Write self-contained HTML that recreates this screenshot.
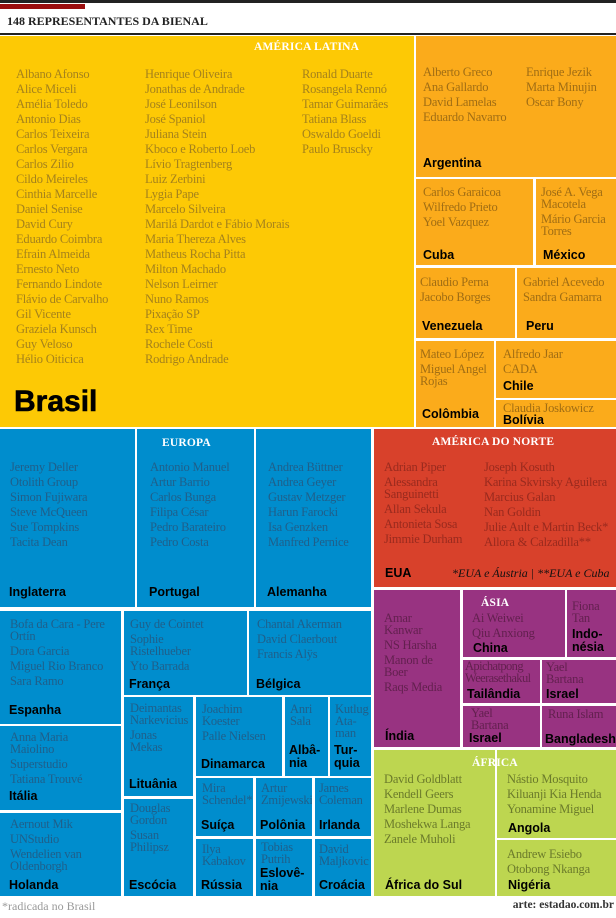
<!DOCTYPE html>
<html><head><meta charset="utf-8"><style>
*{margin:0;padding:0;box-sizing:border-box}
body{width:616px;height:918px;background:#fff;position:relative;overflow:hidden;font-family:"Liberation Serif",serif}
.c{position:absolute;overflow:hidden}
.n{position:absolute;font-size:12.5px;letter-spacing:-0.2px}
.n div{line-height:12px;margin-bottom:3px;white-space:nowrap}
.l{position:absolute;font-family:"Liberation Sans",sans-serif;font-weight:bold;font-size:12.5px;color:#000;line-height:13px}
.y{background:#fdc905}.y .n{color:#a5821c}
.o{background:#fbab1b}.o .n{color:#a06d14}
.b{background:#008dcd}.b .n{color:#1f5f8a}
.r{background:#d8412b}.r .n{color:#992a1e}
.p{background:#983381}.p .n{color:#63204f}
.g{background:#bdd650}.g .n{color:#6b7b2b}
.h{position:absolute;color:#fff;font-weight:bold;font-size:11.5px;letter-spacing:0.2px}
</style></head><body>
<div style="position:absolute;left:0;top:0;width:616px;height:3px;background:#222"></div>
<div style="position:absolute;left:0;top:4px;width:85px;height:5px;background:#9b0d0d"></div>
<div style="position:absolute;left:7px;top:14px;font-size:12px;font-weight:bold;color:#222">148 REPRESENTANTES DA BIENAL</div>
<div style="position:absolute;left:0;top:33px;width:616px;height:2px;background:#222"></div>

<!-- Brasil -->
<div class="c y" style="left:0;top:36px;width:414px;height:391px">
<div class="h" style="left:254px;top:5px">AMÉRICA LATINA</div>
<div class="n" style="left:16px;top:32px"><div>Albano Afonso</div><div>Alice Miceli</div><div>Amélia Toledo</div><div>Antonio Dias</div><div>Carlos Teixeira</div><div>Carlos Vergara</div><div>Carlos Zilio</div><div>Cildo Meireles</div><div>Cinthia Marcelle</div><div>Daniel Senise</div><div>David Cury</div><div>Eduardo Coimbra</div><div>Efrain Almeida</div><div>Ernesto Neto</div><div>Fernando Lindote</div><div>Flávio de Carvalho</div><div>Gil Vicente</div><div>Graziela Kunsch</div><div>Guy Veloso</div><div>Hélio Oiticica</div></div>
<div class="n" style="left:145px;top:32px"><div>Henrique Oliveira</div><div>Jonathas de Andrade</div><div>José Leonilson</div><div>José Spaniol</div><div>Juliana Stein</div><div>Kboco e Roberto Loeb</div><div>Lívio Tragtenberg</div><div>Luiz Zerbini</div><div>Lygia Pape</div><div>Marcelo Silveira</div><div>Marilá Dardot e Fábio Morais</div><div>Maria Thereza Alves</div><div>Matheus Rocha Pitta</div><div>Milton Machado</div><div>Nelson Leirner</div><div>Nuno Ramos</div><div>Pixação SP</div><div>Rex Time</div><div>Rochele Costi</div><div>Rodrigo Andrade</div></div>
<div class="n" style="left:302px;top:32px"><div>Ronald Duarte</div><div>Rosangela Rennó</div><div>Tamar Guimarães</div><div>Tatiana Blass</div><div>Oswaldo Goeldi</div><div>Paulo Bruscky</div></div>
<div class="l" style="left:14px;top:351px;font-size:30px;line-height:30px;font-weight:900;-webkit-text-stroke:0.6px #000">Brasil</div>
</div>

<div class="c o" style="left:416px;top:36px;width:200px;height:141px">
<div class="n" style="left:7px;top:30px"><div>Alberto Greco</div><div>Ana Gallardo</div><div>David Lamelas</div><div>Eduardo Navarro</div></div>
<div class="n" style="left:110px;top:30px"><div>Enrique Jezik</div><div>Marta Minujin</div><div>Oscar Bony</div></div>
<div class="l" style="left:7px;top:121px">Argentina</div></div>
<div class="c o" style="left:416px;top:179px;width:117px;height:86px">
<div class="n" style="left:7px;top:7px"><div>Carlos Garaicoa</div><div>Wilfredo Prieto</div><div>Yoel Vazquez</div></div>
<div class="l" style="left:7px;top:70px">Cuba</div></div>
<div class="c o" style="left:536px;top:179px;width:80px;height:86px">
<div class="n" style="left:5px;top:7px"><div>José A. Vega<br>Macotela</div><div>Mário Garcia<br>Torres</div></div>
<div class="l" style="left:7px;top:70px">México</div></div>
<div class="c o" style="left:416px;top:268px;width:99px;height:70px">
<div class="n" style="left:4px;top:8px"><div>Claudio Perna</div><div>Jacobo Borges</div></div>
<div class="l" style="left:6px;top:52px">Venezuela</div></div>
<div class="c o" style="left:517px;top:268px;width:99px;height:70px">
<div class="n" style="left:6px;top:8px"><div>Gabriel Acevedo</div><div>Sandra Gamarra</div></div>
<div class="l" style="left:9px;top:52px">Peru</div></div>
<div class="c o" style="left:416px;top:341px;width:78px;height:86px">
<div class="n" style="left:4px;top:7px"><div>Mateo López</div><div>Miguel Angel<br>Rojas</div></div>
<div class="l" style="left:6px;top:67px">Colômbia</div></div>
<div class="c o" style="left:496px;top:341px;width:120px;height:57px">
<div class="n" style="left:7px;top:7px"><div>Alfredo Jaar</div><div>CADA</div></div>
<div class="l" style="left:7px;top:39px">Chile</div></div>
<div class="c o" style="left:496px;top:400px;width:120px;height:27px">
<div class="n" style="left:7px;top:2px"><div>Claudia Joskowicz</div></div>
<div class="l" style="left:7px;top:14px">Bolívia</div></div>

<!-- Europe -->
<div class="c b" style="left:0;top:429px;width:135px;height:178px">
<div class="n" style="left:10px;top:32px"><div>Jeremy Deller</div><div>Otolith Group</div><div>Simon Fujiwara</div><div>Steve McQueen</div><div>Sue Tompkins</div><div>Tacita Dean</div></div>
<div class="l" style="left:9px;top:157px">Inglaterra</div></div>
<div class="c b" style="left:137px;top:429px;width:117px;height:178px">
<div class="h" style="left:25px;top:8px">EUROPA</div>
<div class="n" style="left:13px;top:32px"><div>Antonio Manuel</div><div>Artur Barrio</div><div>Carlos Bunga</div><div>Filipa César</div><div>Pedro Barateiro</div><div>Pedro Costa</div></div>
<div class="l" style="left:12px;top:157px">Portugal</div></div>
<div class="c b" style="left:256px;top:429px;width:115px;height:178px">
<div class="n" style="left:12px;top:32px"><div>Andrea Büttner</div><div>Andrea Geyer</div><div>Gustav Metzger</div><div>Harun Farocki</div><div>Isa Genzken</div><div>Manfred Pernice</div></div>
<div class="l" style="left:11px;top:157px">Alemanha</div></div>

<div class="c b" style="left:0;top:611px;width:121px;height:113px">
<div class="n" style="left:10px;top:7px"><div>Bofa da Cara - Pere<br>Ortín</div><div>Dora Garcia</div><div>Miguel Rio Branco</div><div>Sara Ramo</div></div>
<div class="l" style="left:9px;top:93px">Espanha</div></div>
<div class="c b" style="left:124px;top:611px;width:123px;height:84px">
<div class="n" style="left:6px;top:7px"><div>Guy de Cointet</div><div>Sophie<br>Ristelhueber</div><div>Yto Barrada</div></div>
<div class="l" style="left:5px;top:67px">França</div></div>
<div class="c b" style="left:249px;top:611px;width:122px;height:84px">
<div class="n" style="left:8px;top:7px"><div>Chantal Akerman</div><div>David Claerbout</div><div>Francis Alÿs</div></div>
<div class="l" style="left:7px;top:67px">Bélgica</div></div>

<div class="c b" style="left:0;top:726px;width:121px;height:84px">
<div class="n" style="left:10px;top:5px"><div>Anna Maria<br>Maiolino</div><div>Superstudio</div><div>Tatiana Trouvé</div></div>
<div class="l" style="left:9px;top:64px">Itália</div></div>
<div class="c b" style="left:0;top:813px;width:121px;height:83px">
<div class="n" style="left:10px;top:5px"><div>Aernout Mik</div><div>UNStudio</div><div>Wendelien van<br>Oldenborgh</div></div>
<div class="l" style="left:9px;top:66px">Holanda</div></div>

<div class="c b" style="left:124px;top:697px;width:69px;height:99px">
<div class="n" style="left:6px;top:5px"><div>Deimantas<br>Narkevicius</div><div>Jonas<br>Mekas</div></div>
<div class="l" style="left:5px;top:81px">Lituânia</div></div>
<div class="c b" style="left:124px;top:799px;width:69px;height:97px">
<div class="n" style="left:6px;top:3px"><div>Douglas<br>Gordon</div><div>Susan<br>Philipsz</div></div>
<div class="l" style="left:5px;top:80px">Escócia</div></div>

<div class="c b" style="left:196px;top:697px;width:86px;height:79px">
<div class="n" style="left:6px;top:6px"><div>Joachim<br>Koester</div><div>Palle Nielsen</div></div>
<div class="l" style="left:5px;top:61px">Dinamarca</div></div>
<div class="c b" style="left:285px;top:697px;width:43px;height:79px">
<div class="n" style="left:5px;top:6px"><div>Anri<br>Sala</div></div>
<div class="l" style="left:4px;top:47px">Albâ-<br>nia</div></div>
<div class="c b" style="left:330px;top:697px;width:41px;height:79px">
<div class="n" style="left:5px;top:6px"><div>Kutlug<br>Ata-<br>man</div></div>
<div class="l" style="left:4px;top:47px">Tur-<br>quia</div></div>

<div class="c b" style="left:196px;top:778px;width:57px;height:58px">
<div class="n" style="left:6px;top:4px"><div>Mira<br>Schendel*</div></div>
<div class="l" style="left:5px;top:41px">Suíça</div></div>
<div class="c b" style="left:256px;top:778px;width:56px;height:58px">
<div class="n" style="left:5px;top:4px"><div>Artur<br>Zmijewski</div></div>
<div class="l" style="left:4px;top:41px">Polônia</div></div>
<div class="c b" style="left:315px;top:778px;width:56px;height:58px">
<div class="n" style="left:4px;top:4px"><div>James<br>Coleman</div></div>
<div class="l" style="left:4px;top:41px">Irlanda</div></div>

<div class="c b" style="left:196px;top:839px;width:57px;height:57px">
<div class="n" style="left:6px;top:4px"><div>Ilya<br>Kabakov</div></div>
<div class="l" style="left:5px;top:40px">Rússia</div></div>
<div class="c b" style="left:256px;top:839px;width:56px;height:57px">
<div class="n" style="left:5px;top:2px"><div>Tobias<br>Putrih</div></div>
<div class="l" style="left:4px;top:28px">Eslovê-<br>nia</div></div>
<div class="c b" style="left:315px;top:839px;width:56px;height:57px">
<div class="n" style="left:4px;top:4px"><div>David<br>Maljkovic</div></div>
<div class="l" style="left:4px;top:40px">Croácia</div></div>

<!-- North America -->
<div class="c r" style="left:374px;top:429px;width:242px;height:158px">
<div class="h" style="left:58px;top:7px">AMÉRICA DO NORTE</div>
<div class="n" style="left:10px;top:32px"><div>Adrian Piper</div><div>Alessandra<br>Sanguinetti</div><div>Allan Sekula</div><div>Antonieta Sosa</div><div>Jimmie Durham</div></div>
<div class="n" style="left:110px;top:32px"><div>Joseph Kosuth</div><div>Karina Skvirsky Aguilera</div><div>Marcius Galan</div><div>Nan Goldin</div><div>Julie Ault e Martin Beck*</div><div>Allora &amp; Calzadilla**</div></div>
<div class="l" style="left:11px;top:138px">EUA</div>
<div style="position:absolute;left:78px;top:137px;font-style:italic;font-size:12px;color:#111;white-space:nowrap">*EUA e Áustria | **EUA e Cuba</div></div>

<!-- Asia -->
<div class="c p" style="left:374px;top:590px;width:86px;height:157px">
<div class="n" style="left:10px;top:22px"><div>Amar<br>Kanwar</div><div>NS Harsha</div><div>Manon de<br>Boer</div><div>Raqs Media</div></div>
<div class="l" style="left:11px;top:140px">Índia</div></div>
<div class="c p" style="left:463px;top:590px;width:102px;height:67px">
<div class="h" style="left:18px;top:7px">ÁSIA</div>
<div class="n" style="left:9px;top:22px"><div>Ai Weiwei</div><div>Qiu Anxiong</div></div>
<div class="l" style="left:10px;top:52px">China</div></div>
<div class="c p" style="left:567px;top:590px;width:49px;height:67px">
<div class="n" style="left:5px;top:10px"><div>Fiona<br>Tan</div></div>
<div class="l" style="left:5px;top:38px">Indo-<br>nésia</div></div>
<div class="c p" style="left:463px;top:660px;width:77px;height:43px">
<div class="n" style="left:2px;top:0px;letter-spacing:-0.6px"><div>Apichatpong<br>Weerasethakul</div></div>
<div class="l" style="left:4px;top:28px">Tailândia</div></div>
<div class="c p" style="left:542px;top:660px;width:74px;height:43px">
<div class="n" style="left:4px;top:1px"><div>Yael<br>Bartana</div></div>
<div class="l" style="left:4px;top:28px">Israel</div></div>
<div class="c p" style="left:463px;top:706px;width:77px;height:41px">
<div class="n" style="left:8px;top:1px"><div>Yael<br>Bartana</div></div>
<div class="l" style="left:6px;top:26px">Israel</div></div>
<div class="c p" style="left:542px;top:706px;width:74px;height:41px">
<div class="n" style="left:6px;top:2px"><div>Runa Islam</div></div>
<div class="l" style="left:3px;top:27px">Bangladesh</div></div>

<!-- Africa -->
<div class="c g" style="left:374px;top:750px;width:121px;height:146px">
<div class="n" style="left:10px;top:23px"><div>David Goldblatt</div><div>Kendell Geers</div><div>Marlene Dumas</div><div>Moshekwa Langa</div><div>Zanele Muholi</div></div>
<div class="l" style="left:11px;top:129px">África do Sul</div></div>
<div class="c g" style="left:497px;top:750px;width:119px;height:88px">
<div class="n" style="left:10px;top:23px"><div>Nástio Mosquito</div><div>Kiluanji Kia Henda</div><div>Yonamine Miguel</div></div>
<div class="l" style="left:11px;top:72px">Angola</div></div>
<div class="c g" style="left:497px;top:840px;width:119px;height:56px">
<div class="n" style="left:10px;top:8px"><div>Andrew Esiebo</div><div>Otobong Nkanga</div></div>
<div class="l" style="left:11px;top:39px">Nigéria</div></div>
<div class="h" style="left:472px;top:757px">ÁFRICA</div>

<div style="position:absolute;left:2px;top:899px;font-size:12px;color:#999">*radicada no Brasil</div>
<div style="position:absolute;right:2px;top:899px;font-size:11.5px;color:#333;font-weight:bold">arte: estadao.com.br</div>
</body></html>
